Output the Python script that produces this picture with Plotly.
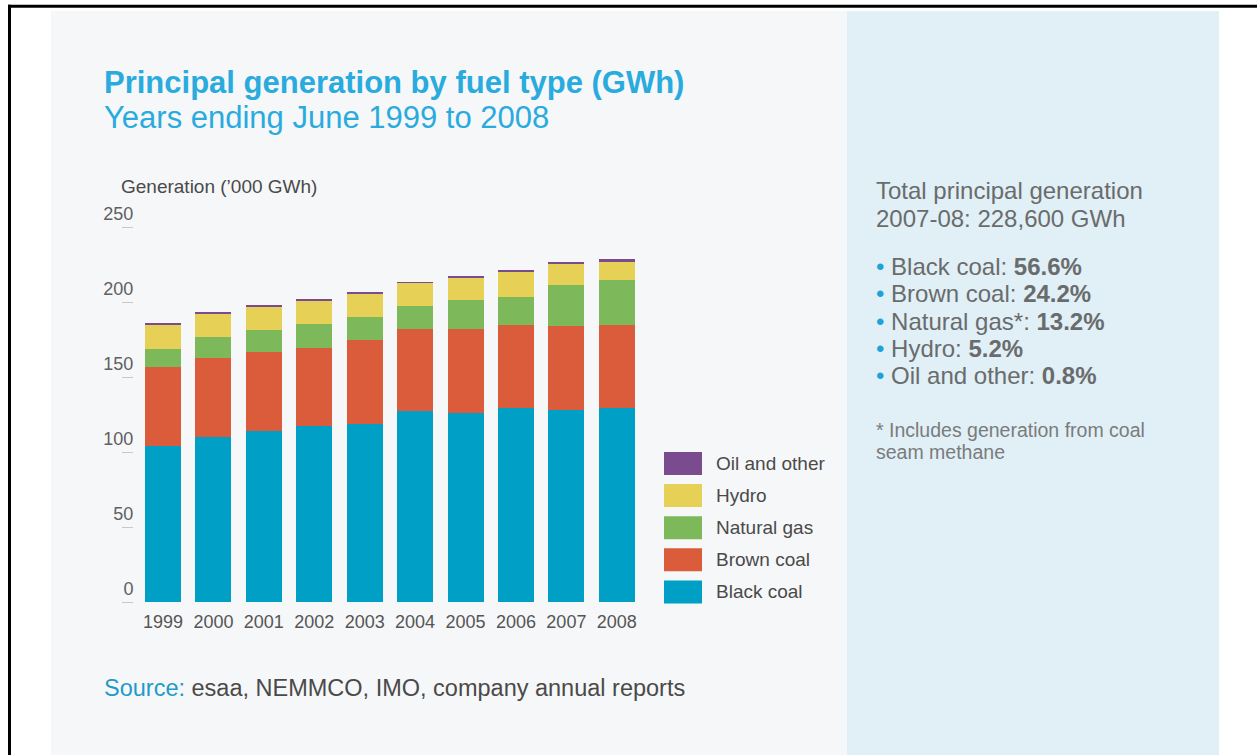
import plotly.graph_objects as go

# ---------------- data ----------------
years = ["1999", "2000", "2001", "2002", "2003", "2004", "2005", "2006", "2007", "2008"]
black_coal = [104.0, 109.8, 114.0, 117.1, 118.9, 127.1, 126.0, 129.1, 128.2, 129.4]
brown_coal = [52.4, 53.1, 52.9, 52.5, 55.5, 55.1, 55.8, 55.6, 55.6, 55.3]
natural_gas = [12.6, 13.8, 14.7, 15.7, 15.4, 15.1, 19.3, 18.9, 27.8, 30.2]
hydro = [16.3, 15.7, 15.7, 15.6, 15.8, 15.4, 15.3, 16.4, 13.7, 11.9]
oil_other = [0.9, 0.6, 0.5, 0.7, 0.5, 0.5, 0.5, 0.7, 1.4, 1.8]
y_ticks = [0, 50, 100, 150, 200, 250]

series_names = ["Black coal", "Brown coal", "Natural gas", "Hydro", "Oil and other"]
series_values = [black_coal, brown_coal, natural_gas, hydro, oil_other]
series_colors = ["#00a0c6", "#db5c3a", "#7db95a", "#e6d055", "#7a4b8f"]

share_labels = ["Black coal", "Brown coal", "Natural gas*", "Hydro", "Oil and other"]
share_values = ["56.6%", "24.2%", "13.2%", "5.2%", "0.8%"]

# ---------------- layout helpers ----------------
W, H = 1257, 755


def px(x):
    return x / W


def py(y):
    return 1 - y / H


FONT = "Liberation Sans"
BLUE = "#29abde"
GREY_TXT = "#4a4a4a"
PANEL_TXT = "#696c6c"

fig = go.Figure()
for name, vals, col in zip(series_names, series_values, series_colors):
    fig.add_trace(go.Bar(x=years, y=vals, name=name, marker=dict(color=col, line=dict(width=0)),
                         showlegend=False))

shapes = [
    dict(type="rect", xref="paper", yref="paper", x0=px(51), x1=px(847), y0=0, y1=py(11),
         fillcolor="#f6f7f9", line=dict(width=0), layer="below"),
    dict(type="rect", xref="paper", yref="paper", x0=px(847), x1=px(1219), y0=0, y1=py(11),
         fillcolor="#e1eff7", line=dict(width=0), layer="below"),
    dict(type="rect", xref="paper", yref="paper", x0=px(8), x1=1, y0=py(7.7), y1=py(4.7),
         fillcolor="#000000", line=dict(width=0), layer="below"),
    dict(type="rect", xref="paper", yref="paper", x0=px(8), x1=px(11), y0=0, y1=py(4.7),
         fillcolor="#000000", line=dict(width=0), layer="below"),
]

annotations = []

leg_top = 463.5
leg_step = 32.1
for i, (name, col) in enumerate(zip(series_names[::-1], series_colors[::-1])):
    cy = leg_top + i * leg_step
    shapes.append(dict(type="rect", xref="paper", yref="paper", x0=px(664), x1=px(702),
                       y0=py(cy + 11.5), y1=py(cy - 11.5), fillcolor=col, line=dict(width=0)))
    annotations.append(dict(text=name, xref="paper", yref="paper", x=px(714), y=py(cy),
                            xanchor="left", yanchor="middle", showarrow=False,
                            font=dict(family=FONT, size=19, color=GREY_TXT)))

annotations += [
    dict(text="<b>Principal generation by fuel type (GWh)</b>", xref="paper", yref="paper",
         x=px(102), y=py(82.5), xanchor="left", yanchor="middle", showarrow=False,
         font=dict(family=FONT, size=31, color=BLUE)),
    dict(text="Years ending June 1999 to 2008", xref="paper", yref="paper",
         x=px(102), y=py(117), xanchor="left", yanchor="middle", showarrow=False,
         font=dict(family=FONT, size=31, color=BLUE)),
    dict(text="Generation (’000 GWh)", xref="paper", yref="paper",
         x=px(119), y=py(186.5), xanchor="left", yanchor="middle", showarrow=False,
         font=dict(family=FONT, size=19, color=GREY_TXT)),
    dict(text="<span style='color:%s'>Source:</span> esaa, NEMMCO, IMO, company annual reports" % "#1e9bc9",
         xref="paper", yref="paper",
         x=px(102), y=py(688), xanchor="left", yanchor="middle", showarrow=False,
         font=dict(family=FONT, size=23.5, color=GREY_TXT)),
]

annotations += [
    dict(text="Total principal generation", xref="paper", yref="paper", x=px(874), y=py(190.5),
         xanchor="left", yanchor="middle", showarrow=False,
         font=dict(family=FONT, size=24, color=PANEL_TXT)),
    dict(text="2007-08: 228,600 GWh", xref="paper", yref="paper", x=px(874), y=py(218),
         xanchor="left", yanchor="middle", showarrow=False,
         font=dict(family=FONT, size=24, color=PANEL_TXT)),
]
b_top = 266
b_step = 27.5
for i, (lab, val) in enumerate(zip(share_labels, share_values)):
    cy = b_top + i * b_step
    annotations.append(dict(text="<span style='color:#1fa3d6'>•</span> %s: <b>%s</b>" % (lab, val),
                            xref="paper", yref="paper", x=px(874), y=py(cy),
                            xanchor="left", yanchor="middle", showarrow=False,
                            font=dict(family=FONT, size=24, color=PANEL_TXT)))
annotations += [
    dict(text="* Includes generation from coal", xref="paper", yref="paper", x=px(874), y=py(430),
         xanchor="left", yanchor="middle", showarrow=False,
         font=dict(family=FONT, size=19.5, color="#7a7c7c")),
    dict(text="seam methane", xref="paper", yref="paper", x=px(874), y=py(452),
         xanchor="left", yanchor="middle", showarrow=False,
         font=dict(family=FONT, size=19.5, color="#7a7c7c")),
]

fig.update_layout(
    width=W, height=H, margin=dict(l=0, r=0, t=0, b=0, autoexpand=False),
    paper_bgcolor="#ffffff", plot_bgcolor="rgba(0,0,0,0)",
    barmode="stack", bargap=0.286,
    font=dict(family=FONT, color="#555555"),
    shapes=shapes, annotations=annotations,
    xaxis=dict(domain=[px(134), px(642)], range=[-0.575, 9.5], type="category", automargin=False,
               showgrid=False, showline=False, zeroline=False, ticks="",
               ticklabelstandoff=7,
               tickfont=dict(family=FONT, size=18, color="#555555")),
    yaxis=dict(domain=[py(602), py(227)], range=[0, 250], tickvals=y_ticks, automargin=False,
               showgrid=False, showline=False, zeroline=False,
               ticks="outside", ticklen=11, tickcolor="#c8c8c8", tickwidth=1,
               ticklabelposition="outside top", ticklabelstandoff=-4,
               tickfont=dict(family=FONT, size=18, color="#606060")),
)

fig.write_html("out.html", config={"displayModeBar": False},
               post_script="document.body.style.margin='0';document.body.style.overflow='hidden';")
